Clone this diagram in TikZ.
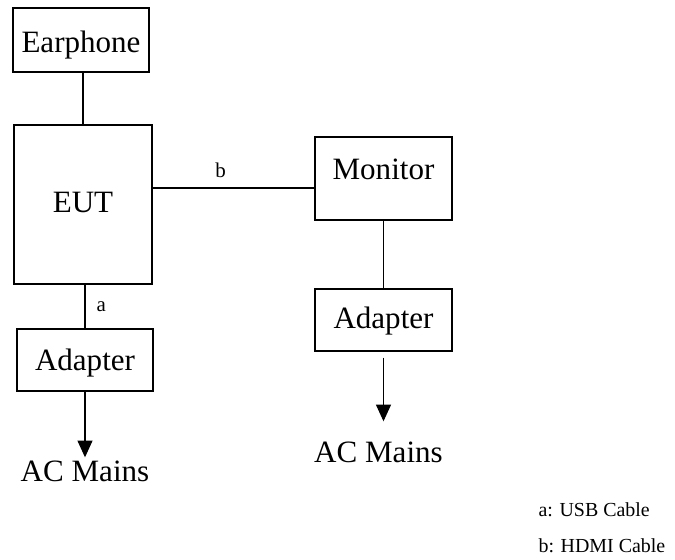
\documentclass[tikz,border=0pt]{standalone}
\usepackage{fontspec}
\setmainfont{Liberation Serif}
\usetikzlibrary{arrows.meta,positioning}
\tikzset{
  blk/.style={draw,line width=0.9pt,inner sep=0pt,text height=0.66cm,font=\fontsize{26.5}{30}\selectfont},
  big/.style={font=\fontsize{26.5}{30}\selectfont},
  small/.style={font=\fontsize{17.9}{21}\selectfont},
  keytext/.style={font=\fontsize{17}{20}\selectfont},
  wire/.style={line width=0.9pt},
  feed/.style={line width=0.9pt,-{Triangle[length=0.5cm,width=0.45cm]}}
}
\begin{document}
\begin{tikzpicture}
\useasboundingbox (0,0) rectangle (20.25,16.8);
% units
\node[blk,minimum width=4.08cm,minimum height=1.92cm,text height=0.78cm,text depth=0cm] (ear) at (2.43,15.6) {Earphone};
\node[blk,minimum width=4.14cm,minimum height=4.77cm,text depth=0.15cm] (eut) at (2.49,10.665) {EUT};
\node[blk,minimum width=4.11cm,minimum height=2.49cm,text depth=0.57cm] (mon) at (11.505,11.445) {Monitor};
\node[blk,minimum width=4.11cm,minimum height=1.86cm,text depth=0.12cm] (adpR) at (11.505,7.2) {Adapter};
\node[blk,minimum width=4.08cm,minimum height=1.86cm,text depth=0cm] (adpL) at (2.55,6.0) {Adapter};
\node[big,anchor=base] (acL) at (2.55,2.34) {AC Mains};
\node[big,anchor=base] (acR) at (11.355,2.91) {AC Mains};
% key
\node[keytext,anchor=base west,inner sep=0pt] (keyA) at (16.15,1.29) {a: USB Cable};
\node[keytext,anchor=base west,inner sep=0pt] (keyB) at (16.15,0.21) {b: HDMI Cable};
% cables
\draw[wire] (eut.north) -- (eut.north |- ear.south);
\draw[wire] (adpL.north) -- node[small,right=0.3cm,inner sep=1pt] (lblA) {a} (adpL.north |- eut.south);
\coordinate (hdmi) at ([yshift=-0.285cm]mon.west);
\draw[wire] (hdmi) -- node[small,above=0.26cm,inner sep=1pt,pos=0.58] (lblB) {b} (hdmi -| eut.east);
\draw[wire] (mon.south) -- (adpR.north);
% mains
\draw[feed] (adpL.south) -- (acL.north);
\draw[feed,shorten <=0.18cm,shorten >=0.51cm] (adpR.south) -- (adpR.south |- acR.north);
\end{tikzpicture}
\end{document}
